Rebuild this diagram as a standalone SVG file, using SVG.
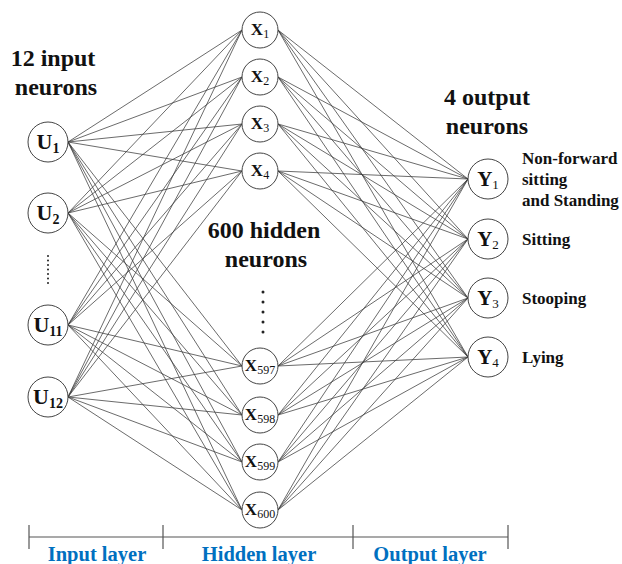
<svg xmlns="http://www.w3.org/2000/svg" width="622" height="564" viewBox="0 0 622 564">
<style>
.node{fill:#fff;stroke:#444;stroke-width:1}
.edge{stroke:#3a3a3a;stroke-width:0.75;fill:none}
.t{font-weight:bold;fill:#111}
.title{font-size:24px}
.lab{font-size:17px}
.ul{font-size:22px}
.us{font-size:14px}
.xl{font-size:17px}
.xs{font-size:12px;font-weight:normal}
.yl{font-size:21px}
.ys{font-size:13px;font-weight:normal}
.layer{font-weight:bold;font-size:20.5px;fill:#0070C0}
.axis{stroke:#555;stroke-width:1.2}
.dot{fill:#222}
</style>
<g id="connectors">
<path class="edge" d="
M68 142L242 30M68 142L242 77M68 142L242 124M68 142L242 171M68 142L242 366M68 142L242 415M68 142L242 462M68 142L242 510
M68 213L242 30M68 213L242 77M68 213L242 124M68 213L242 171M68 213L242 366M68 213L242 415M68 213L242 462M68 213L242 510
M68 325L242 30M68 325L242 77M68 325L242 124M68 325L242 171M68 325L242 366M68 325L242 415M68 325L242 462M68 325L242 510
M68 397L242 30M68 397L242 77M68 397L242 124M68 397L242 171M68 397L242 366M68 397L242 415M68 397L242 462M68 397L242 510
M278 30L468 179M278 30L468 239M278 30L468 298M278 30L468 357
M278 77L468 179M278 77L468 239M278 77L468 298M278 77L468 357
M278 124L468 179M278 124L468 239M278 124L468 298M278 124L468 357
M278 171L468 179M278 171L468 239M278 171L468 298M278 171L468 357
M278 366L468 179M278 366L468 239M278 366L468 298M278 366L468 357
M278 415L468 179M278 415L468 239M278 415L468 298M278 415L468 357
M278 462L468 179M278 462L468 239M278 462L468 298M278 462L468 357
M278 510L468 179M278 510L468 239M278 510L468 298M278 510L468 357"/>
</g>
<g font-family="'Liberation Serif', 'DejaVu Serif', serif">
<g id="titles">
<text class="t title" x="53" y="66" text-anchor="middle">12 input</text>
<text class="t title" x="56" y="95" text-anchor="middle">neurons</text>
<text class="t title" x="264" y="238" text-anchor="middle">600 hidden</text>
<text class="t title" x="266" y="267" text-anchor="middle">neurons</text>
<text class="t title" x="487" y="105" text-anchor="middle">4 output</text>
<text class="t title" x="487" y="134" text-anchor="middle">neurons</text>
</g>
<g id="input-dots">
<circle class="dot" cx="48" cy="256" r="1"/><circle class="dot" cx="48" cy="260.5" r="1"/><circle class="dot" cx="48" cy="265" r="1"/><circle class="dot" cx="48" cy="269.5" r="1"/><circle class="dot" cx="48" cy="274" r="1"/><circle class="dot" cx="48" cy="278.5" r="1"/><circle class="dot" cx="48" cy="283" r="1"/>
</g>
<g id="hidden-dots">
<circle class="dot" cx="263" cy="292" r="1.5"/><circle class="dot" cx="263" cy="302" r="1.5"/><circle class="dot" cx="263" cy="312" r="1.5"/><circle class="dot" cx="263" cy="322" r="1.5"/><circle class="dot" cx="263" cy="332" r="1.5"/>
</g>
<g id="U1"><circle class="node" cx="48" cy="142" r="20"/><text class="t ul" x="48" y="149" text-anchor="middle">U<tspan class="us" dy="4">1</tspan></text></g>
<g id="U2"><circle class="node" cx="48" cy="213" r="20"/><text class="t ul" x="48" y="220" text-anchor="middle">U<tspan class="us" dy="4">2</tspan></text></g>
<g id="U11"><circle class="node" cx="48" cy="325" r="20"/><text class="t ul" x="48" y="332" text-anchor="middle">U<tspan class="us" dy="4">11</tspan></text></g>
<g id="U12"><circle class="node" cx="48" cy="397" r="20"/><text class="t ul" x="48" y="404" text-anchor="middle">U<tspan class="us" dy="4">12</tspan></text></g>
<g id="X1"><circle class="node" cx="260" cy="30" r="18"/><text class="t xl" x="260" y="35" text-anchor="middle">X<tspan class="xs" dy="3">1</tspan></text></g>
<g id="X2"><circle class="node" cx="260" cy="77" r="18"/><text class="t xl" x="260" y="82" text-anchor="middle">X<tspan class="xs" dy="3">2</tspan></text></g>
<g id="X3"><circle class="node" cx="260" cy="124" r="18"/><text class="t xl" x="260" y="129" text-anchor="middle">X<tspan class="xs" dy="3">3</tspan></text></g>
<g id="X4"><circle class="node" cx="260" cy="171" r="18"/><text class="t xl" x="260" y="176" text-anchor="middle">X<tspan class="xs" dy="3">4</tspan></text></g>
<g id="X597"><circle class="node" cx="260" cy="366" r="18"/><text class="t xl" x="260" y="371" text-anchor="middle">X<tspan class="xs" dy="3">597</tspan></text></g>
<g id="X598"><circle class="node" cx="260" cy="415" r="18"/><text class="t xl" x="260" y="420" text-anchor="middle">X<tspan class="xs" dy="3">598</tspan></text></g>
<g id="X599"><circle class="node" cx="260" cy="462" r="18"/><text class="t xl" x="260" y="467" text-anchor="middle">X<tspan class="xs" dy="3">599</tspan></text></g>
<g id="X600"><circle class="node" cx="260" cy="510" r="18"/><text class="t xl" x="260" y="515" text-anchor="middle">X<tspan class="xs" dy="3">600</tspan></text></g>
<g id="Y1"><circle class="node" cx="488" cy="179" r="20"/><text class="t yl" x="488" y="186" text-anchor="middle">Y<tspan class="ys" dy="3">1</tspan></text></g>
<g id="Y2"><circle class="node" cx="488" cy="239" r="20"/><text class="t yl" x="488" y="246" text-anchor="middle">Y<tspan class="ys" dy="3">2</tspan></text></g>
<g id="Y3"><circle class="node" cx="488" cy="298" r="20"/><text class="t yl" x="488" y="305" text-anchor="middle">Y<tspan class="ys" dy="3">3</tspan></text></g>
<g id="Y4"><circle class="node" cx="488" cy="357" r="20"/><text class="t yl" x="488" y="364" text-anchor="middle">Y<tspan class="ys" dy="3">4</tspan></text></g>
<g id="output-labels">
<text class="t lab" x="522" y="164">Non-forward</text>
<text class="t lab" x="522" y="185">sitting</text>
<text class="t lab" x="522" y="206">and Standing</text>
<text class="t lab" x="522" y="245">Sitting</text>
<text class="t lab" x="522" y="304">Stooping</text>
<text class="t lab" x="522" y="363">Lying</text>
</g>
<g id="layer-axis">
<line class="axis" x1="29" y1="537" x2="508" y2="537"/>
<line class="axis" x1="29" y1="525" x2="29" y2="549"/>
<line class="axis" x1="163" y1="525" x2="163" y2="549"/>
<line class="axis" x1="353" y1="525" x2="353" y2="549"/>
<line class="axis" x1="508" y1="525" x2="508" y2="549"/>
<text class="layer" x="97" y="561" text-anchor="middle">Input layer</text>
<text class="layer" x="259" y="561" text-anchor="middle">Hidden layer</text>
<text class="layer" x="430" y="561" text-anchor="middle">Output layer</text>
</g>
</g>
</svg>
